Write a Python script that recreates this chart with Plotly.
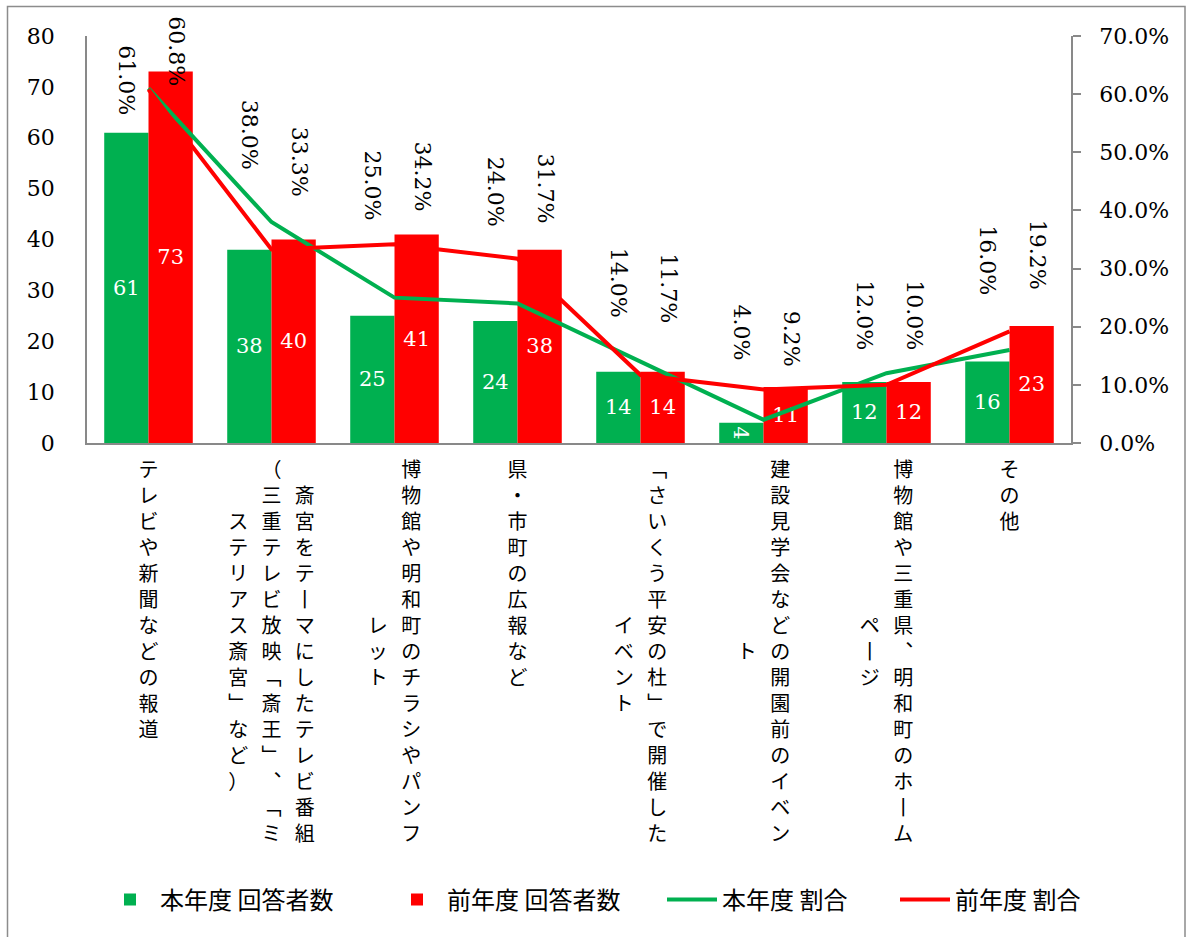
import plotly.graph_objects as go

# ---------------- data ----------------
categories = [
    "テレビや新聞などの報道",
    "斎宮をテーマにしたテレビ番組(三重テレビ放映「斎王」、「ミステリアス斎宮」など)",
    "博物館や明和町のチラシやパンフレット",
    "県・市町の広報など",
    "「さいくう平安の杜」で開催したイベント",
    "建設見学会などの開園前のイベント",
    "博物館や三重県、明和町のホームページ",
    "その他",
]
this_year_counts = [61, 38, 25, 24, 14, 4, 12, 16]
last_year_counts = [73, 40, 41, 38, 14, 11, 12, 23]
this_year_pct = [61.0, 38.0, 25.0, 24.0, 14.0, 4.0, 12.0, 16.0]
last_year_pct = [60.8, 33.3, 34.2, 31.7, 11.7, 9.2, 10.0, 19.2]
series_names = ["本年度 回答者数", "前年度 回答者数", "本年度 割合", "前年度 割合"]

# label placement (left-axis units) for the rotated percentage labels
this_pct_label_pos = [71.4, 60.7, 50.7, 49.5, 31.6, 21.8, 25.2, 36.0]
last_pct_label_pos = [77.1, 55.4, 52.5, 50.1, 30.5, 20.6, 25.2, 37.1]

GREEN = "#00B050"
RED = "#FF0000"
AXIS = "#898989"
SERIF = "DejaVu Serif"
JP = "Noto Sans CJK JP"

# ---------------- vertical (tategaki) tick labels ----------------
VERT = {"ー": "丨", "「": "﹁", "」": "﹂", "、": "︑", "(": "（", ")": "）"}
NO_LINE_END = set("(「")


def wrap(text, width=15):
    cols, cur = [], ""
    for ch in text:
        cur += ch
        if len(cur) == width:
            if cur[-1] in NO_LINE_END:
                cols.append(cur[:-1])
                cur = cur[-1]
            else:
                cols.append(cur)
                cur = ""
    if cur:
        cols.append(cur)
    return cols


def vertical_label(text):
    cols = wrap(text)
    n = max(len(c) for c in cols)
    padded = []
    for c in cols:
        top = (n - len(c) + 1) // 2
        s = "　" * top + "".join(VERT.get(ch, ch) for ch in c)
        s = s + "　" * (n - len(s))
        padded.append(s)
    padded = padded[::-1]  # first column is rightmost
    gap = "\u2002\u2006"
    rows = [gap.join(col[r] for col in padded) for r in range(n)]
    return "<br>".join(rows)


tick_text = [vertical_label(c) for c in categories]

# ---------------- figure ----------------
fig = go.Figure()
fig.add_bar(
    x=categories, y=this_year_counts, name=series_names[0], legend="legend",
    marker=dict(color=GREEN, line=dict(width=0)),
    text=[str(v) for v in this_year_counts], textposition="inside",
    insidetextanchor="middle", constraintext="none",
    textfont=dict(family=SERIF, size=21, color="white"),
)
fig.add_bar(
    x=categories, y=last_year_counts, name=series_names[1], legend="legend",
    marker=dict(color=RED, line=dict(width=0)),
    text=[str(v) for v in last_year_counts], textposition="inside",
    insidetextanchor="middle", constraintext="none",
    textfont=dict(family=SERIF, size=21, color="white"),
)
fig.add_scatter(
    x=categories, y=[v / 100 for v in this_year_pct], name=series_names[2],
    legend="legend2",
    yaxis="y2", mode="lines", line=dict(color=GREEN, width=4),
)
fig.add_scatter(
    x=categories, y=[v / 100 for v in last_year_pct], name=series_names[3],
    legend="legend2",
    yaxis="y2", mode="lines", line=dict(color=RED, width=4),
)

annotations = []
for i, cat in enumerate(categories):
    annotations.append(dict(
        x=cat, y=this_pct_label_pos[i], xref="x", yref="y", xshift=-22,
        text=f"{this_year_pct[i]:.1f}%", textangle=90, showarrow=False,
        xanchor="center", yanchor="middle",
        font=dict(family=SERIF, size=22, color="black"),
    ))
    annotations.append(dict(
        x=cat, y=last_pct_label_pos[i], xref="x", yref="y", xshift=28,
        text=f"{last_year_pct[i]:.1f}%", textangle=90, showarrow=False,
        xanchor="center", yanchor="middle",
        font=dict(family=SERIF, size=22, color="black"),
    ))

W, H = 1186, 937
ML, MR, MT, MB = 87, 115, 36, 494
PW, PH = W - ML - MR, H - MT - MB
LEG_Y = (PH + MT - 900) / PH

fig.update_layout(
    width=W, height=H,
    margin=dict(l=ML, r=MR, t=MT, b=MB, autoexpand=False),
    paper_bgcolor="white", plot_bgcolor="white",
    barmode="group", bargap=0.28, bargroupgap=0,
    annotations=annotations,
    showlegend=True,
    legend=dict(
        orientation="h", x=(100 - ML) / PW, xanchor="left",
        y=LEG_Y, yanchor="middle",
        font=dict(family=JP, size=24, color="black"),
        itemwidth=50, traceorder="normal",
        entrywidth=222, entrywidthmode="pixels",
    ),
    legend2=dict(
        orientation="h", x=(662 - ML) / PW, xanchor="left",
        y=LEG_Y, yanchor="middle",
        font=dict(family=JP, size=24, color="black"),
        itemwidth=50, traceorder="normal",
        entrywidth=168, entrywidthmode="pixels",
    ),
    xaxis=dict(
        type="category", tickmode="array", tickvals=categories, ticktext=tick_text,
        tickangle=0, showline=True, linecolor=AXIS, linewidth=1.5, ticks="",
        showgrid=False, tickfont=dict(family=JP, size=20, color="black"),
        ticklabelstandoff=8, automargin=False,
    ),
    yaxis=dict(
        range=[0, 80], dtick=10, showline=True, linecolor=AXIS, linewidth=1.5,
        ticks="", showgrid=False, zeroline=False,
        tickfont=dict(family=SERIF, size=22, color="black"),
        ticklabelstandoff=26, automargin=False,
    ),
    yaxis2=dict(
        overlaying="y", side="right", range=[0, 0.7], dtick=0.1, tickformat=".1%",
        showline=True, linecolor=AXIS, linewidth=1.5, ticks="outside", ticklen=8,
        tickcolor=AXIS, tickwidth=1.5, showgrid=False, zeroline=False,
        tickfont=dict(family=SERIF, size=22, color="black"),
        ticklabelstandoff=14, automargin=False,
    ),
    shapes=[dict(
        type="rect", xref="paper", yref="paper",
        x0=(7.5 - ML) / PW, x1=(1185 - ML) / PW,
        y0=(PH + MT - 960) / PH, y1=(PH + MT - 6.5) / PH,
        line=dict(color="#8c8c8c", width=1.5), fillcolor="rgba(0,0,0,0)",
        layer="below",
    )],
)

fig.write_html(
    "out.html",
    config={"displayModeBar": False},
    post_script="document.body.style.margin='0';document.body.style.overflow='hidden';",
)
